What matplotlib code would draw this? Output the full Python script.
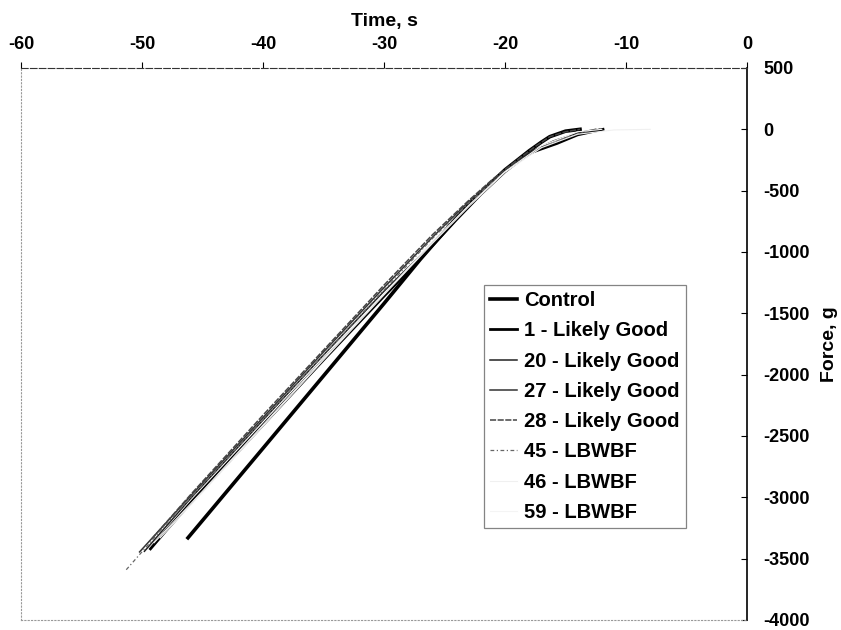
import numpy as np
import matplotlib
matplotlib.use("Agg")
import matplotlib.pyplot as plt

# global settings
plt.rcParams['font.family'] = ['Liberation Sans', 'DejaVu Sans']
plt.rcParams['font.weight'] = 'bold'
plt.rcParams['font.size'] = 13
plt.rcParams['axes.unicode_minus'] = False

# force traces, time (s) vs force (g)
t_control = [-46.2, -44.5, -40, -35, -30, -27, -24, -22, -20, -18, -17, -16.3, -15, -13.8]
f_control = [-3330, -3130, -2600, -2010, -1420, -1060, -720, -515, -330, -175, -105, -60, -15, 0]

t_1 = [-49.3, -48, -45.9, -40, -35, -30, -27, -24, -22, -20, -18, -15.7, -14, -11.9]
f_1 = [-3420, -3270, -3036, -2410, -1880, -1360, -1055, -735, -530, -345, -195, -115, -45, 0]

t_20 = [-49.8, -46, -40, -35, -30, -27, -24, -22, -20, -18, -16, -14, -12.5]
f_20 = [-3440, -3010, -2370, -1840, -1320, -1030, -720, -520, -335, -190, -95, -30, 0]

t_27 = [-50.2, -46, -40, -35, -30, -26, -23, -21, -19, -17, -15, -13.5, -12.2]
f_27 = [-3445, -2990, -2350, -1815, -1290, -880, -590, -420, -265, -150, -75, -25, 0]

t_28 = [-49.2, -46, -40, -35, -30, -26, -23, -21, -19, -17.5, -16.3, -15, -13.8]
f_28 = [-3340, -2980, -2330, -1800, -1270, -860, -580, -405, -250, -140, -60, -20, 0]

t_45 = [-51.3, -48, -45, -40, -35, -30, -26, -23, -21, -19, -17, -15, -13]
f_45 = [-3590, -3220, -2900, -2370, -1840, -1310, -890, -600, -425, -270, -150, -65, -10]

t_46 = [-48.5, -45, -40, -35, -30, -26, -23, -20, -17, -14, -11, -8]
f_46 = [-3330, -2960, -2420, -1880, -1350, -930, -630, -350, -150, -40, -5, 0]

t_59 = [-49.0, -45, -40, -35, -30, -26, -23, -20, -17, -14, -12]
f_59 = [-3370, -2950, -2410, -1870, -1340, -920, -620, -345, -135, -20, 0]

series = [
    ("Control", t_control, f_control, dict(color='black', lw=2.6, ls='-')),
    ("1 - Likely Good", t_1, f_1, dict(color='black', lw=2.0, ls='-')),
    ("20 - Likely Good", t_20, f_20, dict(color='#222222', lw=1.1, ls='-')),
    ("27 - Likely Good", t_27, f_27, dict(color='#333333', lw=1.1, ls='-')),
    ("28 - Likely Good", t_28, f_28, dict(color='#444444', lw=1.1, ls=(0, (4, 1)))),
    ("45 - LBWBF", t_45, f_45, dict(color='#666666', lw=0.9, ls=(0, (3, 2, 1, 2)))),
    ("46 - LBWBF", t_46, f_46, dict(color='#f0f0f0', lw=0.8, ls='-')),
    ("59 - LBWBF", t_59, f_59, dict(color='#f4f4f4', lw=0.8, ls='-')),
]

fig = plt.figure(figsize=(8.41, 6.3), dpi=100)
ax = fig.add_axes([21/841, 1-620/630, (747-21)/841, (620-68)/630])

for name, t, f, st in series:
    ax.plot(t, f, label=name, **st)

ax.set_xlim(-60, 0)
ax.set_ylim(-4000, 500)
ax.set_xticks(np.arange(-60, 1, 10))
ax.set_yticks(np.arange(-4000, 501, 500))

# x axis on top, y axis on right
ax.xaxis.tick_top()
ax.xaxis.set_label_position('top')
ax.yaxis.tick_right()
ax.yaxis.set_label_position('right')
ax.tick_params(axis='x', direction='out', length=4, width=0.8, pad=7, labelsize=13)
ax.tick_params(axis='y', direction='in', length=4, width=0.8, pad=11.5, labelsize=13)
for lab in ax.get_xticklabels() + ax.get_yticklabels():
    lab.set_fontweight('bold')

ax.set_xlabel("Time, s", fontsize=14, fontweight='bold', labelpad=7)
ax.set_ylabel("Force, g", fontsize=14, fontweight='bold', labelpad=8)

ax.spines['right'].set_color('black')
ax.spines['right'].set_linewidth(1.2)
ax.spines['top'].set_color('#333333')
ax.spines['top'].set_linewidth(0.8)
ax.spines['top'].set_linestyle((0, (6, 2)))
for s in ['left', 'bottom']:
    ax.spines[s].set_color('#999999')
    ax.spines[s].set_linewidth(0.8)
    ax.spines[s].set_linestyle((0, (1, 2)))

leg = ax.legend(loc='upper left', bbox_to_anchor=(484/841, 1-285/630),
                bbox_transform=fig.transFigure, frameon=True, fancybox=False,
                handlelength=1.35, handletextpad=0.35, labelspacing=0.56,
                borderaxespad=0, borderpad=0.3, prop={'weight': 'bold', 'size': 14.5})
leg.get_frame().set_edgecolor('#666666')
leg.get_frame().set_linewidth(0.9)

fig.savefig("out.png", dpi=100)
